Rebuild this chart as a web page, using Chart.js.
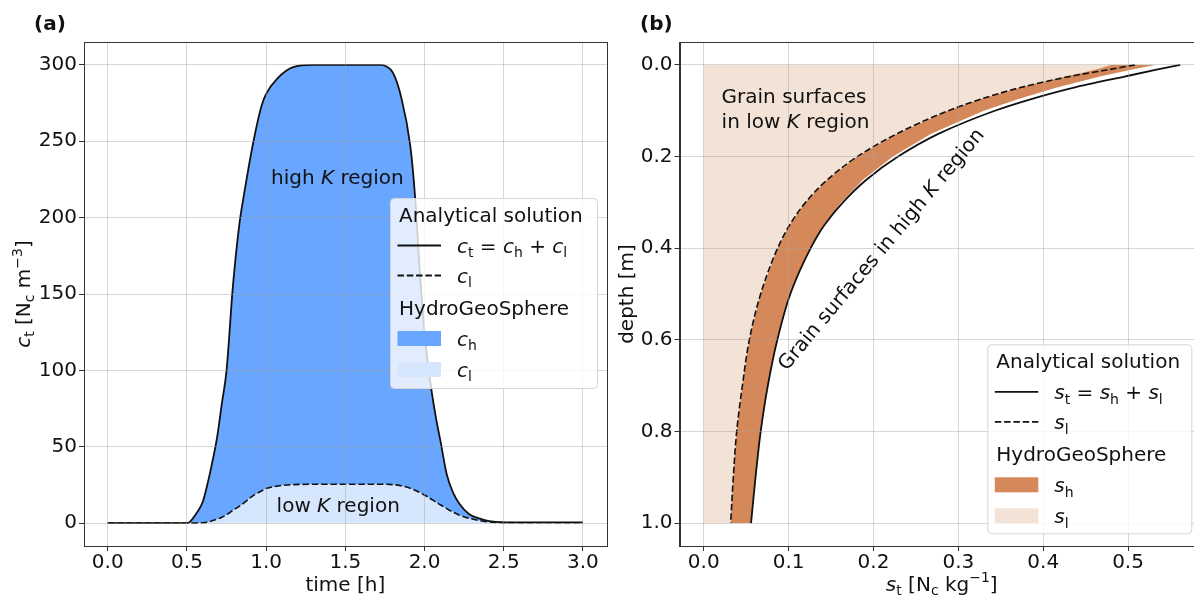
<!DOCTYPE html>
<html><head><meta charset="utf-8">
<script src="https://cdn.jsdelivr.net/npm/chart.js@4.4.1/dist/chart.umd.min.js"></script>
<style>
html,body{margin:0;padding:0;background:#fff;overflow:hidden;}
#page{position:relative;width:1194px;height:600px;overflow:hidden;background:#fff;}
#wrapA{position:absolute;left:0;top:0;width:615px;height:600px;}
#wrapB{position:absolute;left:595px;top:0;width:620px;height:600px;}
canvas{display:block;}
</style></head><body>
<div id="page">
<div id="wrapA"><canvas id="chartA" width="615" height="600"></canvas></div>
<div id="wrapB"><canvas id="chartB" width="620" height="600"></canvas></div>
</div>
<script>
// ---------- Panel (a) data ----------
const timeH   = [0, 0.5, 0.52, 0.56, 0.6, 0.625, 0.65, 0.69, 0.72, 0.75, 0.79, 0.83, 0.86, 0.92, 0.97, 1.0, 1.07, 1.17, 1.3, 1.5,
                 1.72, 1.76, 1.8, 1.85, 1.91, 1.94, 1.97, 2.0, 2.03, 2.07, 2.1, 2.14, 2.18, 2.22, 2.28, 2.35, 2.4, 2.45, 2.5, 3.0];
const ctTotal = [0, 0, 1, 6.4, 14, 23.6, 35, 56, 78, 100, 155, 195, 215, 250, 273, 281, 291, 298.5, 300, 300,
                 300, 299, 295, 280, 247, 214, 165, 125, 97, 70, 54, 32, 20, 12.7, 6, 2.9, 1.5, 0.8, 0.5, 0.5];
const clLow   = [0, 0, 0, 0, 0.2, 0.6, 1.2, 2.5, 3.8, 5.5, 8.3, 11, 13.2, 18.2, 21, 22.6, 24.2, 25.2, 25.4, 25.4,
                 25.4, 25.4, 25.2, 24.5, 22.8, 21.5, 20, 18.3, 16.5, 13.8, 12, 9.5, 7.2, 5.2, 3.2, 1.6, 0.9, 0.5, 0.3, 0.2];
const timeTicks = [0, 0.5, 1.0, 1.5, 2.0, 2.5, 3.0];
const concTicks = [0, 50, 100, 150, 200, 250, 300];

// ---------- Panel (b) data ----------
const depthM   = [0, 0.01, 0.025, 0.05, 0.075, 0.1, 0.15, 0.2, 0.25, 0.3, 0.35, 0.4, 0.5, 0.6, 0.7, 0.8, 0.9, 1.0];
const stTotal  = [0.5615, 0.535, 0.497, 0.435, 0.385, 0.343, 0.277, 0.229, 0.192, 0.164, 0.142, 0.126, 0.102, 0.0867, 0.0755, 0.0671, 0.061, 0.0557];
const slLow    = [0.508, 0.478, 0.432, 0.372, 0.326, 0.288, 0.228, 0.181, 0.146, 0.12, 0.101, 0.087, 0.067, 0.0537, 0.0455, 0.0388, 0.0348, 0.0317];
const hgsTotal = [0.532, 0.505, 0.468, 0.415, 0.37, 0.33, 0.268, 0.223, 0.188, 0.162, 0.141, 0.1255, 0.1015, 0.0865, 0.0754, 0.067, 0.061, 0.0557];
const hgsLow   = [0.48, 0.462, 0.428, 0.372, 0.326, 0.288, 0.228, 0.181, 0.146, 0.12, 0.101, 0.087, 0.067, 0.0537, 0.0455, 0.0388, 0.0348, 0.0317];
const sorbTicks  = [0, 0.1, 0.2, 0.3, 0.4, 0.5];
const depthTicks = [0, 0.2, 0.4, 0.6, 0.8, 1.0];

// ---------- styles ----------
const FONT = '"DejaVu Sans", sans-serif';
const FS = 20;
const GRID = 'rgba(165,165,165,0.45)';
const AXC = '#333333';
const TXT = '#111111';
const DASH = [6.5, 2.8];
const C_DARKBLUE = '#69a6ff', C_LIGHTBLUE = '#d6e6fc';
const C_ORANGE = '#d5895a', C_PEACH = '#f3e3d7';

function segFont(s, size) {
  const sz = (s.sub || s.sup) ? size * 0.7 : size;
  return (s.it ? 'italic ' : '') + (s.b ? 'bold ' : '') + sz + 'px ' + FONT;
}
function richWidth(ctx, segs, size) {
  let w = 0;
  for (const s of segs) { ctx.font = segFont(s, size); w += ctx.measureText(s.t).width; }
  return w;
}
function drawRich(ctx, segs, x, y, size, align) {
  const w = richWidth(ctx, segs, size);
  let cx = align === 'center' ? x - w / 2 : (align === 'right' ? x - w : x);
  ctx.textAlign = 'left'; ctx.textBaseline = 'alphabetic';
  for (const s of segs) {
    ctx.font = segFont(s, size);
    const dy = s.sub ? size * 0.22 : (s.sup ? -size * 0.42 : 0);
    ctx.fillText(s.t, cx, y + dy);
    cx += ctx.measureText(s.t).width;
  }
}
function hline(ctx, x1, x2, y) { ctx.beginPath(); ctx.moveTo(x1, y); ctx.lineTo(x2, y); ctx.stroke(); }

function drawLegend(ctx, L) {
  const {x, y, w, h} = L;
  ctx.save();
  ctx.beginPath();
  if (ctx.roundRect) ctx.roundRect(x + 0.5, y + 0.5, w, h, 4); else ctx.rect(x + 0.5, y + 0.5, w, h);
  ctx.fillStyle = 'rgba(255,255,255,0.8)'; ctx.fill();
  ctx.strokeStyle = '#d4d4d4'; ctx.lineWidth = 1; ctx.stroke();
  ctx.fillStyle = TXT;
  drawRich(ctx, [{t: 'Analytical solution'}], x + 9, y + 23.5, FS, 'left');
  ctx.strokeStyle = '#111'; ctx.lineWidth = 1.8;
  ctx.setLineDash([]); hline(ctx, x + 7.5, x + 51, y + 47.5);
  drawRich(ctx, L.labTotal, x + 67, y + 55, FS, 'left');
  ctx.setLineDash(DASH); hline(ctx, x + 7.5, x + 51, y + 77.5); ctx.setLineDash([]);
  drawRich(ctx, L.labLow, x + 67, y + 85, FS, 'left');
  drawRich(ctx, [{t: 'HydroGeoSphere'}], x + 9, y + 116.5, FS, 'left');
  ctx.fillStyle = L.cHigh; ctx.fillRect(x + 7.5, y + 133, 43.5, 15);
  ctx.fillStyle = L.cLow; ctx.fillRect(x + 7.5, y + 164, 43.5, 15);
  ctx.fillStyle = TXT;
  drawRich(ctx, L.labHigh, x + 67, y + 148, FS, 'left');
  drawRich(ctx, L.labLow, x + 67, y + 179, FS, 'left');
  ctx.restore();
}

function axisCfg(min, max, ticks, fmt, isY, fitSize, reverse) {
  return {
    type: 'linear', min: min, max: max, reverse: !!reverse,
    afterBuildTicks: s => { s.ticks = ticks.map(v => ({value: v})); },
    afterFit: s => { if (isY) s.width = fitSize; else s.height = fitSize; },
    ticks: {autoSkip: false, maxRotation: 0, minRotation: 0, color: TXT, padding: isY ? 2 : 0,
            font: {family: 'DejaVu Sans', size: FS}, callback: v => fmt(v)},
    grid: {color: GRID, lineWidth: 1, z: 1, tickLength: 5, tickColor: AXC, drawTicks: true},
    border: {display: true, color: AXC, width: 1, z: 1}
  };
}

function framePlugin(extra) {
  return {
    id: 'frameText',
    afterDraw(chart) {
      const ctx = chart.ctx, a = chart.chartArea;
      ctx.save();
      ctx.strokeStyle = AXC; ctx.lineWidth = 1;
      ctx.strokeRect(Math.round(a.left) + 0.5, Math.round(a.top) + 0.5, Math.round(a.right - a.left), Math.round(a.bottom - a.top));
      ctx.fillStyle = TXT;
      extra(chart, ctx, a);
      ctx.restore();
    }
  };
}

// ---------- Chart (a) ----------
const ptsA = arr => arr.map((v, i) => ({x: timeH[i], y: v}));
new Chart(document.getElementById('chartA'), {
  type: 'line',
  data: {datasets: [
    {data: ptsA(ctTotal), borderColor: '#111', borderWidth: 1.8, pointRadius: 0, fill: false, cubicInterpolationMode: 'monotone'},
    {data: ptsA(clLow), borderColor: '#111', borderWidth: 1.6, borderDash: DASH, pointRadius: 0, fill: false, cubicInterpolationMode: 'monotone'},
    {data: ptsA(ctTotal), borderWidth: 0, borderColor: 'rgba(0,0,0,0)', backgroundColor: C_DARKBLUE, pointRadius: 0, fill: 3, cubicInterpolationMode: 'monotone'},
    {data: ptsA(clLow), borderWidth: 0, borderColor: 'rgba(0,0,0,0)', backgroundColor: C_LIGHTBLUE, pointRadius: 0, fill: 'origin', cubicInterpolationMode: 'monotone'}
  ]},
  options: {
    responsive: false, animation: false, devicePixelRatio: 1, events: [],
    layout: {padding: {left: 0, top: 42, right: 8.3, bottom: 0}},
    plugins: {legend: {display: false}, tooltip: {enabled: false}},
    scales: {
      x: axisCfg(-0.15, 3.15, timeTicks, v => v.toFixed(1), false, 54),
      y: axisCfg(-15, 315, concTicks, v => String(v), true, 84)
    }
  },
  plugins: [framePlugin((chart, ctx, a) => {
    const xs = chart.scales.x, ys = chart.scales.y;
    ctx.font = 'bold ' + FS + 'px ' + FONT;
    ctx.textAlign = 'left'; ctx.textBaseline = 'alphabetic';
    ctx.fillText('(a)', 34, 30);
    drawRich(ctx, [{t: 'high '}, {t: 'K', it: 1}, {t: ' region'}], xs.getPixelForValue(1.45), ys.getPixelForValue(222), FS, 'center');
    drawRich(ctx, [{t: 'low '}, {t: 'K', it: 1}, {t: ' region'}], xs.getPixelForValue(1.455), ys.getPixelForValue(7.2), FS, 'center');
    drawRich(ctx, [{t: 'time [h]'}], (a.left + a.right) / 2, 590.5, FS, 'center');
    ctx.save(); ctx.translate(30, (a.top + a.bottom) / 2); ctx.rotate(-Math.PI / 2);
    drawRich(ctx, [{t: 'c', it: 1}, {t: 't', sub: 1}, {t: ' [N'}, {t: 'c', sub: 1}, {t: ' m'}, {t: '\u22123', sup: 1}, {t: ']'}], 0, 0, FS, 'center');
    ctx.restore();
    drawLegend(ctx, {x: 390, y: 198, w: 207, h: 190,
      labTotal: [{t: 'c', it: 1}, {t: 't', sub: 1}, {t: ' = '}, {t: 'c', it: 1}, {t: 'h', sub: 1}, {t: ' + '}, {t: 'c', it: 1}, {t: 'l', sub: 1}],
      labLow: [{t: 'c', it: 1}, {t: 'l', sub: 1}],
      labHigh: [{t: 'c', it: 1}, {t: 'h', sub: 1}],
      cHigh: C_DARKBLUE, cLow: C_LIGHTBLUE});
  })]
});

// ---------- Chart (b) ----------
const ptsB = arr => arr.map((v, i) => ({x: v, y: depthM[i]}));
const peachPoly = [{x: 0, y: depthM[0]}].concat(ptsB(hgsLow), [{x: 0, y: depthM[depthM.length - 1]}]);
const orangePoly = ptsB(hgsLow).concat(ptsB(hgsTotal).reverse());
new Chart(document.getElementById('chartB'), {
  type: 'line',
  data: {datasets: [
    {data: ptsB(stTotal), indexAxis: 'y', borderColor: '#111', borderWidth: 1.8, pointRadius: 0, fill: false, cubicInterpolationMode: 'monotone'},
    {data: ptsB(slLow), indexAxis: 'y', borderColor: '#111', borderWidth: 1.6, borderDash: DASH, pointRadius: 0, fill: false, cubicInterpolationMode: 'monotone'},
    {data: orangePoly, borderWidth: 0, borderColor: 'rgba(0,0,0,0)', backgroundColor: C_ORANGE, pointRadius: 0, fill: 'shape', tension: 0},
    {data: peachPoly, borderWidth: 0, borderColor: 'rgba(0,0,0,0)', backgroundColor: C_PEACH, pointRadius: 0, fill: 'shape', tension: 0}
  ]},
  options: {
    responsive: false, animation: false, devicePixelRatio: 1, events: [],
    layout: {padding: {left: 0, top: 42, right: 11, bottom: 0}},
    plugins: {legend: {display: false}, tooltip: {enabled: false}},
    scales: {
      x: axisCfg(-0.0286, 0.5895, sorbTicks, v => v.toFixed(1), false, 54),
      y: axisCfg(-0.05, 1.05, depthTicks, v => v.toFixed(1), true, 84.5, true)
    }
  },
  plugins: [framePlugin((chart, ctx, a) => {
    const xs = chart.scales.x, ys = chart.scales.y;
    ctx.font = 'bold ' + FS + 'px ' + FONT;
    ctx.textAlign = 'left'; ctx.textBaseline = 'alphabetic';
    ctx.fillText('(b)', 45, 30);
    drawRich(ctx, [{t: 'Grain surfaces'}], xs.getPixelForValue(0.021), ys.getPixelForValue(0.084), FS, 'left');
    drawRich(ctx, [{t: 'in low '}, {t: 'K', it: 1}, {t: ' region'}], xs.getPixelForValue(0.021), ys.getPixelForValue(0.137), FS, 'left');
    ctx.save();
    ctx.translate(xs.getPixelForValue(0.0977), ys.getPixelForValue(0.669));
    ctx.rotate(-50 * Math.PI / 180);
    drawRich(ctx, [{t: 'Grain surfaces in high '}, {t: 'K', it: 1}, {t: ' region'}], 0, 0, FS, 'left');
    ctx.restore();
    drawRich(ctx, [{t: 's', it: 1}, {t: 't', sub: 1}, {t: ' [N'}, {t: 'c', sub: 1}, {t: ' kg'}, {t: '\u22121', sup: 1}, {t: ']'}], (a.left + a.right) / 2, 590.5, FS, 'center');
    ctx.save(); ctx.translate(38, (a.top + a.bottom) / 2); ctx.rotate(-Math.PI / 2);
    drawRich(ctx, [{t: 'depth [m]'}], 0, 0, FS, 'center');
    ctx.restore();
    drawLegend(ctx, {x: 392.3, y: 344.3, w: 204, h: 189,
      labTotal: [{t: 's', it: 1}, {t: 't', sub: 1}, {t: ' = '}, {t: 's', it: 1}, {t: 'h', sub: 1}, {t: ' + '}, {t: 's', it: 1}, {t: 'l', sub: 1}],
      labLow: [{t: 's', it: 1}, {t: 'l', sub: 1}],
      labHigh: [{t: 's', it: 1}, {t: 'h', sub: 1}],
      cHigh: C_ORANGE, cLow: C_PEACH});
  })]
});
</script>
</body></html>
